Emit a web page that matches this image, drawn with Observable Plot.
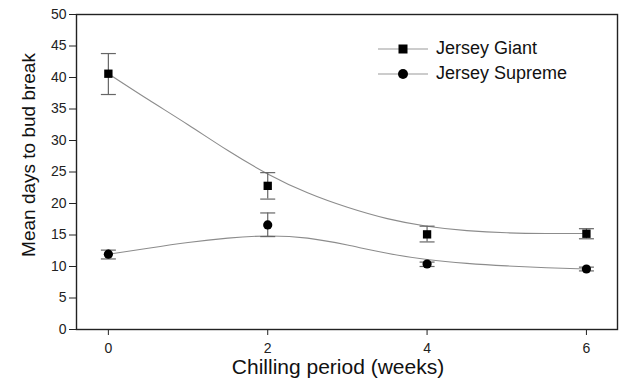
<!DOCTYPE html>
<html>
<head>
<meta charset="utf-8">
<script src="https://cdn.jsdelivr.net/npm/d3@7"></script>
<script src="https://cdn.jsdelivr.net/npm/@observablehq/plot@0.6"></script>
<style>
  html, body { margin: 0; padding: 0; background: #fff; }
  #wrap { position: relative; width: 621px; height: 382px; font-family: "Liberation Sans", Arial, sans-serif; }
  #legend { position: absolute; left: 378px; top: 36px; font-size: 18px; color: #111; }
  #legend .row { display: flex; align-items: center; height: 25px; }
  #legend svg { margin-right: 6px; }
</style>
</head>
<body>
<div id="wrap"><div id="legend"></div></div>
<script>
// ---- data ----
const weeks = [0, 2, 4, 6];
const seriesNames = ["Jersey Giant", "Jersey Supreme"];
const giantMean = [40.6, 22.8, 15.1, 15.2];
const giantHigh = [43.8, 24.9, 16.4, 16.0];
const giantLow = [37.3, 20.7, 13.9, 14.4];
const supremeMean = [11.95, 16.6, 10.4, 9.6];
const supremeHigh = [12.6, 18.5, 10.7, 9.9];
const supremeLow = [11.2, 14.75, 10.0, 9.3];
// fitted curves
const fitX = [0, 0.5, 1, 1.5, 2, 2.5, 3, 3.5, 4, 4.5, 5, 5.5, 6];
const giantFit = [40.6, 36.5, 32.5, 28.4, 24.7, 21.7, 19.4, 17.6, 16.4, 15.7, 15.35, 15.25, 15.25];
const supremeFit = [11.95, 12.9, 13.8, 14.5, 14.85, 14.5, 13.4, 12.1, 11.1, 10.5, 10.1, 9.8, 9.6];
const yTicks = [0, 5, 10, 15, 20, 25, 30, 35, 40, 45, 50];
const xTicks = [0, 2, 4, 6];
const xLabel = "Chilling period (weeks)";
const yLabel = "Mean days to bud break";

const points = [];
weeks.forEach((w, i) => {
  points.push({series: seriesNames[0], x: w, y: giantMean[i], hi: giantHigh[i], lo: giantLow[i]});
  points.push({series: seriesNames[1], x: w, y: supremeMean[i], hi: supremeHigh[i], lo: supremeLow[i]});
});
const fits = [];
fitX.forEach((x, i) => {
  fits.push({series: seriesNames[0], x, y: giantFit[i]});
  fits.push({series: seriesNames[1], x, y: supremeFit[i]});
});

const capSymbol = {
  draw(context, size) {
    const r = Math.sqrt(size / Math.PI);
    context.moveTo(-r, 0);
    context.lineTo(r, 0);
  }
};
const symbolOf = s => s === seriesNames[0] ? "square" : "circle";

const font = "\"Liberation Sans\", Arial, sans-serif";
const chart = Plot.plot({
  width: 621,
  height: 382,
  marginLeft: 76,
  marginRight: 4,
  marginTop: 14,
  marginBottom: 53,
  style: {fontFamily: font, fontSize: "14px", background: "white", color: "#111"},
  x: {domain: [-0.4, 6.39]},
  y: {domain: [0, 50]},
  marks: [
    Plot.line(fits, {x: "x", y: "y", z: "series", curve: "natural", stroke: "#8c8c8c", strokeWidth: 1.1}),
    Plot.ruleX(points, {x: "x", y1: "lo", y2: "hi", stroke: "#666", strokeWidth: 1.2}),
    Plot.dot(points, {x: "x", y: "hi", symbol: () => capSymbol, r: 7.5, stroke: "#666", strokeWidth: 1.2, fill: "none"}),
    Plot.dot(points, {x: "x", y: "lo", symbol: () => capSymbol, r: 7.5, stroke: "#666", strokeWidth: 1.2, fill: "none"}),
    Plot.dot(points.filter(d => d.series === seriesNames[0]), {x: "x", y: "y", symbol: "square", r: 4.7, fill: "black", stroke: "none"}),
    Plot.dot(points.filter(d => d.series === seriesNames[1]), {x: "x", y: "y", symbol: "circle", r: 4.6, fill: "black", stroke: "none"}),
    Plot.axisY(yTicks, {tickSize: 7, tickPadding: 3, fontSize: 14, label: null, stroke: "#222", fill: "#222"}),
    Plot.axisX(xTicks, {tickSize: 6, tickPadding: 8, fontSize: 14, label: null, stroke: "#222", fill: "#222"}),
    Plot.frame({stroke: "#222", strokeWidth: 1.4}),
    Plot.text([yLabel], {frameAnchor: "left", textAnchor: "middle", lineAnchor: "middle", rotate: -90, dx: -48, dy: -17, fontSize: 19, fill: "#111"}),
    Plot.text([xLabel], {frameAnchor: "bottom", textAnchor: "middle", lineAnchor: "middle", dy: 38, dx: -9, fontSize: 21, fill: "#111"})
  ]
});
const wrap = document.getElementById("wrap");
wrap.insertBefore(chart, wrap.firstChild);

// legend
const legend = document.getElementById("legend");
seriesNames.forEach(name => {
  const row = document.createElement("div");
  row.className = "row";
  const sym = symbolOf(name) === "square"
    ? '<rect x="20.5" y="5.5" width="9" height="9" fill="black"/>'
    : '<circle cx="25" cy="10" r="5" fill="black"/>';
  row.innerHTML = `<svg width="52" height="20"><line x1="0" y1="10" x2="50" y2="10" stroke="#999" stroke-width="1.1"/>${sym}</svg><span>${name}</span>`;
  legend.appendChild(row);
});
</script>
</body>
</html>
